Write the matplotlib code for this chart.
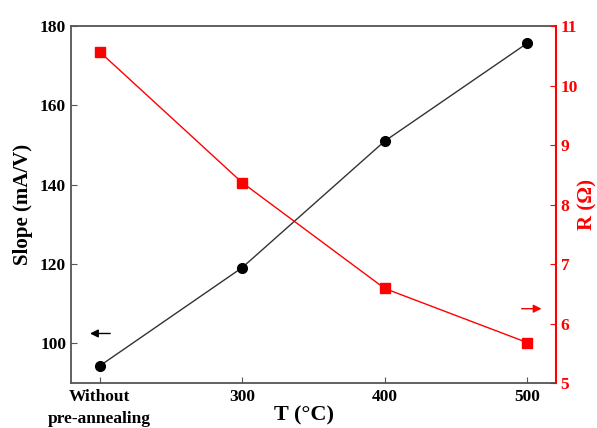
import numpy as np
import matplotlib.pyplot as plt

plt.rcParams['font.family'] = ['Liberation Serif', 'DejaVu Serif']
plt.rcParams['font.weight'] = 'bold'

categories = ['Without\npre-annealing', '300', '400', '500']
slope = [94.3, 119.1, 151.0, 175.7]
resistance = [10.57, 8.37, 6.59, 5.68]

x = np.arange(len(categories))

fig, ax = plt.subplots(figsize=(5.97, 4.28), dpi=100)
fig.subplots_adjust(left=0.119, right=0.931, top=0.939, bottom=0.105)

ax.plot(x, slope, color='#333333', lw=1, marker='o', ms=7, mfc='black', mec='black')
ax.set_xlim(-0.2, 3.2)
ax.set_ylim(90, 180)
ax.set_yticks([100, 120, 140, 160, 180])
ax.set_xticks(x)
ax.set_xticklabels(categories, fontsize=12.5, fontweight='bold', linespacing=1.5)
ax.tick_params(axis='both', direction='in', labelsize=12.5, length=4, color='#555555')
ax.tick_params(axis='x', pad=4)
ax.set_xlabel('T (°C)', fontsize=16, fontweight='bold')
ax.xaxis.set_label_coords(0.48, -0.063)
ax.set_ylabel('Slope (mA/V)', fontsize=15, fontweight='bold')
ax.yaxis.set_label_coords(-0.079, 0.5)
for s in ['left', 'top', 'bottom']:
    ax.spines[s].set_color('#555555')
    ax.spines[s].set_linewidth(1.3)
ax.spines['right'].set_visible(False)

ax2 = ax.twinx()
ax2.plot(x, resistance, color='red', lw=1, marker='s', ms=6.5, mfc='red', mec='red')
ax2.set_ylim(5, 11)
ax2.set_yticks([5, 6, 7, 8, 9, 10, 11])
ax2.tick_params(axis='y', direction='in', labelsize=12.5, length=4, color='red', labelcolor='red')
ax2.set_ylabel('R (Ω)', fontsize=15, fontweight='bold', color='red')
ax2.yaxis.set_label_coords(1.045, 0.5)
ax2.spines['right'].set_color('red')
ax2.spines['right'].set_linewidth(1.5)
for s in ['left', 'top', 'bottom']:
    ax2.spines[s].set_visible(False)

# direction arrows
ax.annotate('', xy=(-0.067, 102.5), xytext=(0.075, 102.5),
            arrowprops=dict(arrowstyle='-|>', color='black', lw=1, mutation_scale=12,
                            shrinkA=0, shrinkB=0))
ax2.annotate('', xy=(3.1, 6.25), xytext=(2.96, 6.25),
             arrowprops=dict(arrowstyle='-|>', color='red', lw=1, mutation_scale=12,
                             shrinkA=0, shrinkB=0))

fig.savefig('out.png', dpi=100)
